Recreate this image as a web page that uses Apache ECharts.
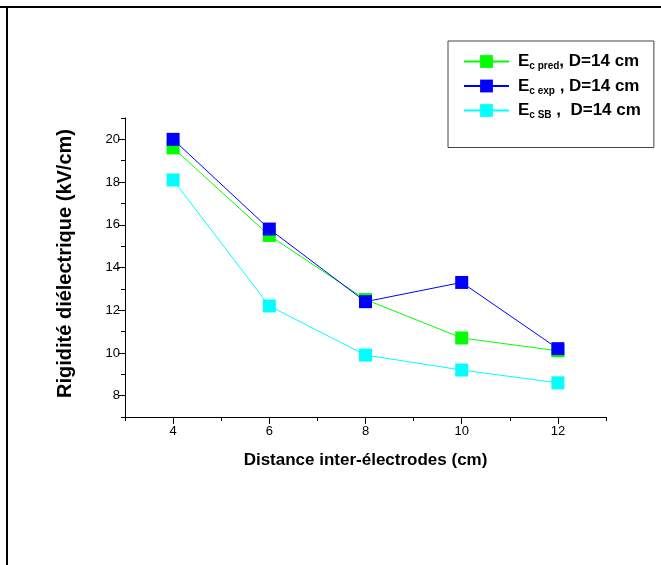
<!DOCTYPE html>
<html><head><meta charset="utf-8">
<script src="https://cdn.jsdelivr.net/npm/echarts@6/dist/echarts.min.js"></script>
<style>html,body{margin:0;padding:0;background:#fff}#c{width:661px;height:565px}</style>
</head><body><div id="c"></div>
<script>
const distances = [4, 6, 8, 10, 12];
const ecPred = [19.6, 15.5, 12.5, 10.7, 10.1];
const ecExp = [20.0, 15.8, 12.4, 13.3, 10.2];
const ecSB = [18.1, 12.2, 9.9, 9.2, 8.6];
const xMajorTicks = [4, 6, 8, 10, 12];
const xMinorTicks = [3, 5, 7, 9, 11, 13];
const yMajorTicks = [8, 10, 12, 14, 16, 18, 20];
const yMinorTicks = [7, 9, 11, 13, 15, 17, 19, 21];
const seriesNames = ['pred', 'exp', 'sb'];
const legendSubs = ['c pred', 'c exp', 'c SB'];
const legendTails = [', D=14 cm', ' , D=14 cm', ' ,  D=14 cm'];
const colors = ['#00ff00', '#0000ff', '#00ffff'];
const xName = 'Distance inter-électrodes (cm)';
const yName = 'Rigidité diélectrique (kV/cm)';

const FONT = 'Liberation Sans, Arial, sans-serif';
const chart = echarts.init(document.getElementById('c'), null, {renderer: 'canvas'});

const seriesData = [ecPred, ecExp, ecSB];
const series = seriesData.map((vals, i) => ({
  name: seriesNames[i],
  type: 'line',
  xAxisIndex: 0, yAxisIndex: 0,
  data: distances.map((d, j) => [d, vals[j]]),
  symbol: 'rect',
  symbolSize: 13,
  color: colors[i],
  itemStyle: {color: colors[i]},
  lineStyle: {color: colors[i], width: 1},
  emphasis: {disabled: true}
}));

const baseAxisLabel = {fontFamily: FONT, fontSize: 13, color: '#000'};

chart.setOption({
  animation: false,
  backgroundColor: '#fff',
  grid: {left: 125, right: 55, top: 118, bottom: 148, containLabel: false},
  xAxis: [
    {
      type: 'value', min: 3, max: 13, position: 'bottom',
      axisLine: {show: true, lineStyle: {color: '#000', width: 1}},
      axisTick: {show: true, customValues: xMajorTicks, length: 7, lineStyle: {color: '#000'}},
      axisLabel: Object.assign({customValues: xMajorTicks, margin: 8}, baseAxisLabel),
      splitLine: {show: false},
      name: xName, nameLocation: 'middle', nameGap: 35,
      nameTextStyle: {fontFamily: FONT, fontSize: 17, fontWeight: 'bold', color: '#000'}
    },
    {
      type: 'value', min: 3, max: 13, position: 'bottom',
      axisLine: {show: false},
      axisTick: {show: true, customValues: xMinorTicks, length: 4, lineStyle: {color: '#000'}},
      axisLabel: {show: false},
      splitLine: {show: false}
    }
  ],
  yAxis: [
    {
      type: 'value', min: 7, max: 21, position: 'left',
      axisLine: {show: true, lineStyle: {color: '#000', width: 1}},
      axisTick: {show: true, customValues: yMajorTicks, length: 7, lineStyle: {color: '#000'}},
      axisLabel: Object.assign({customValues: yMajorTicks, margin: 5}, baseAxisLabel),
      splitLine: {show: false},
      name: yName, nameLocation: 'middle', nameGap: 50,
      nameTextStyle: {fontFamily: FONT, fontSize: 20, fontWeight: 'bold', color: '#000', padding: [0, 0, 0, 8]}
    },
    {
      type: 'value', min: 7, max: 21, position: 'left',
      axisLine: {show: false},
      axisTick: {show: true, customValues: yMinorTicks, length: 4, lineStyle: {color: '#000'}},
      axisLabel: {show: false},
      splitLine: {show: false}
    }
  ],
  legend: {
    orient: 'vertical',
    left: 448, top: 41,
    padding: [12, 13, 27, 15],
    itemGap: 6,
    itemWidth: 45, itemHeight: 16,
    backgroundColor: '#fff',
    borderColor: '#444', borderWidth: 1,
    selectedMode: false,
    data: seriesNames,
    formatter: function (name) {
      const i = seriesNames.indexOf(name);
      return '{e|E}{s|' + legendSubs[i] + '}{t|' + legendTails[i] + '}';
    },
    textStyle: {
      fontFamily: FONT, fontSize: 17, fontWeight: 'bold', color: '#000',
      rich: {
        e: {fontFamily: FONT, fontSize: 17, fontWeight: 'bold', color: '#000', padding: [0, 0, 0, 4]},
        s: {fontFamily: FONT, fontSize: 10, fontWeight: 'bold', color: '#000', padding: [10, 0, 0, 0]},
        t: {fontFamily: FONT, fontSize: 17, fontWeight: 'bold', color: '#000'}
      }
    }
  },
  graphic: [
    {type: 'line', shape: {x1: 0, y1: 7, x2: 661, y2: 7}, style: {stroke: '#000', lineWidth: 2}, silent: true},
    {type: 'line', shape: {x1: 7, y1: 7, x2: 7, y2: 565}, style: {stroke: '#000', lineWidth: 2}, silent: true}
  ],
  series: series
});
</script>
</body></html>
